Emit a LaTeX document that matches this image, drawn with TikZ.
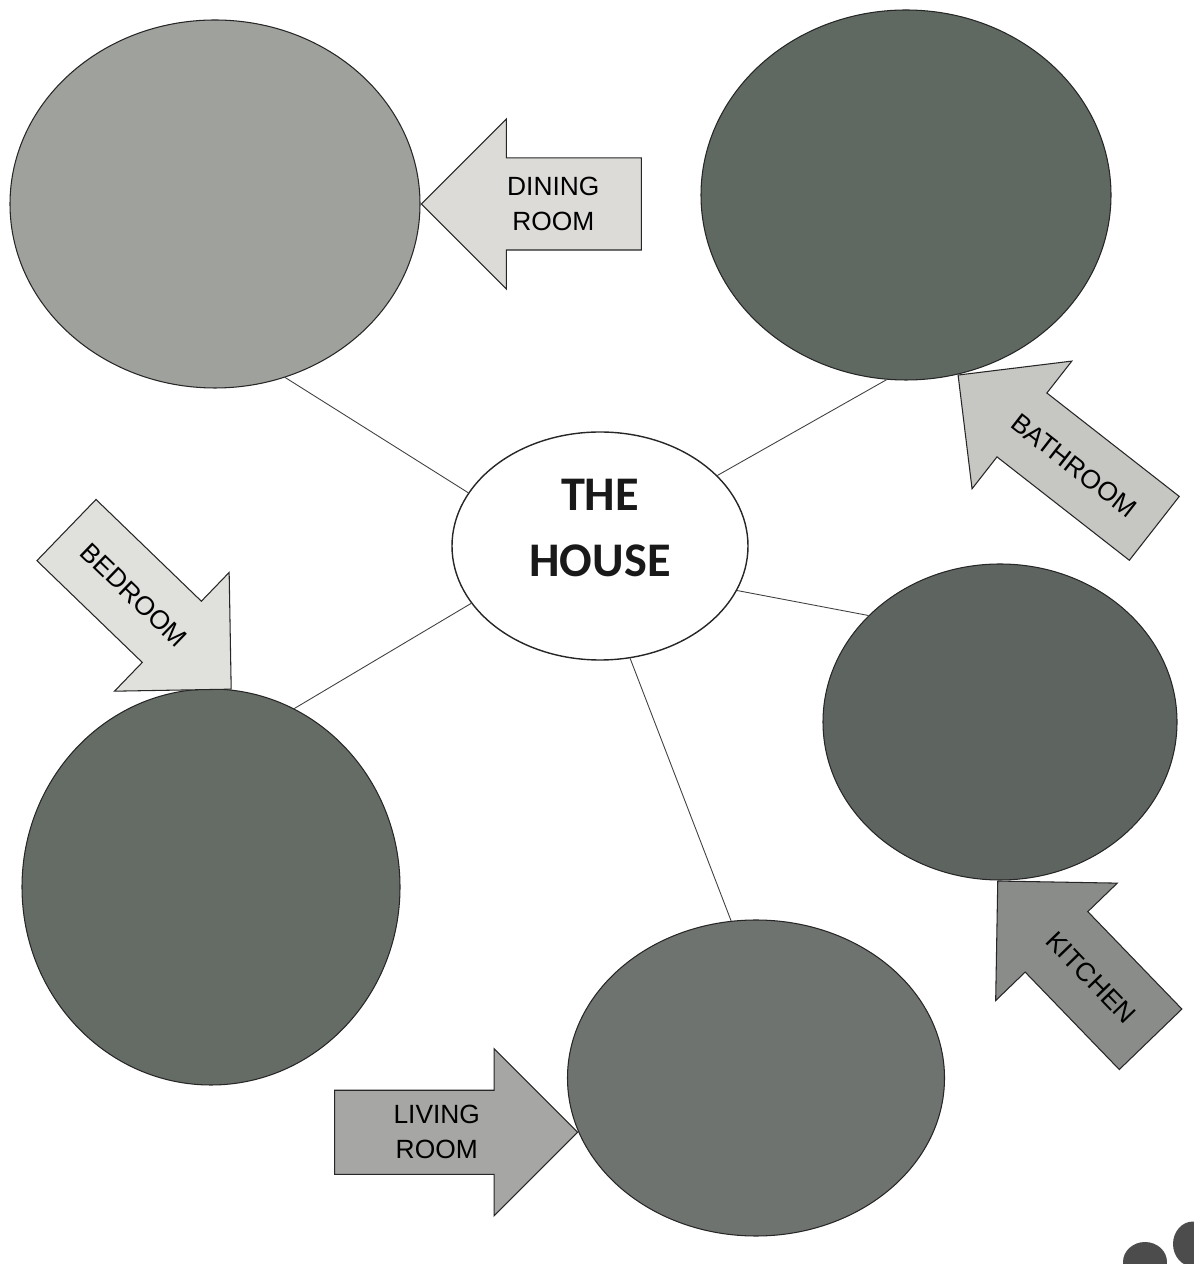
\documentclass[tikz,border=0pt]{standalone}
\usepackage{fontspec}
\newfontfamily\tagfont{Liberation Sans}
\newfontfamily\hubfont{Carlito}
\usetikzlibrary{shapes.geometric,shapes.arrows,calc}

\definecolor{diningfill}{HTML}{9EA19C}
\definecolor{bathfill}{HTML}{5F6962}
\definecolor{kitchenfill}{HTML}{5E6560}
\definecolor{bedfill}{HTML}{656C66}
\definecolor{livingfill}{HTML}{6F736F}
\definecolor{diningtagfill}{HTML}{DCDBD8}
\definecolor{bathtagfill}{HTML}{C6C6C3}
\definecolor{bedtagfill}{HTML}{E0E0DC}
\definecolor{kitchentagfill}{HTML}{898C88}
\definecolor{livingtagfill}{HTML}{A6A7A4}

\begin{document}
\begin{tikzpicture}[
  room/.style={ellipse,draw=black!85,line width=0.6pt,inner sep=0pt},
  hub/.style={ellipse,draw=black!85,line width=0.8pt,fill=white,inner sep=0pt,minimum width=5.92cm,minimum height=4.56cm},
  hubtext/.style={font=\hubfont\bfseries\fontsize{27.5pt}{37.5pt}\selectfont,align=center,text=black!90,inner sep=0pt},
  tag/.style={single arrow,draw=black!85,line width=0.6pt,single arrow tip angle=90,inner xsep=0pt,minimum width=0pt,anchor=tip},
  tagtext/.style={font=\tagfont\fontsize{15pt}{20pt}\selectfont,align=center,inner sep=0pt},
  link/.style={draw=black!75,line width=0.5pt}
]
\useasboundingbox (0,0) rectangle (23.86,25.28);

\node[hub] (house) at (12.0,14.36) {};
\node[hubtext] (housetxt) at ([yshift=0.36cm]house.center) {THE\\HOUSE};

\node[room,fill=diningfill,minimum width=8.2cm,minimum height=7.36cm] (dining) at (4.30,21.20) {};
\node[room,fill=bathfill,minimum width=8.2cm,minimum height=7.4cm] (bathroom) at (18.12,21.38) {};
\node[room,fill=kitchenfill,minimum width=7.08cm,minimum height=6.32cm] (kitchen) at (20.0,10.84) {};
\node[room,fill=bedfill,minimum width=7.56cm,minimum height=7.92cm] (bedroom) at (4.22,7.54) {};
\node[room,fill=livingfill,minimum width=7.54cm,minimum height=6.32cm] (living) at (15.12,3.72) {};

\draw[link] (house.158) -- (dining.292);
\draw[link] (house.31) -- (bathroom.264);
\draw[link] (house.342) -- (kitchen.141);
\draw[link] (house.204) -- (bedroom.65);
\draw[link] (house.285) -- (living.99);

\node[tag,fill=diningtagfill,rotate=180,minimum height=4.4cm,inner ysep=0.91cm,single arrow head extend=0.78cm] (diningtag) at (dining.east) {};
\node[tag,fill=bathtagfill,rotate=142,minimum height=4.98cm,inner ysep=0.8cm,single arrow head extend=0.81cm] (bathtag) at (bathroom.-74) {};
\node[tag,fill=kitchentagfill,rotate=134,minimum height=4.4cm,inner ysep=0.86cm,single arrow head extend=0.82cm] (kitchentag) at (kitchen.-91) {};
\node[tag,fill=bedtagfill,rotate=-44,minimum height=4.58cm,inner ysep=0.84cm,single arrow head extend=0.8cm] (bedtag) at (bedroom.84) {};
\node[tag,fill=livingtagfill,rotate=0,minimum height=4.86cm,inner ysep=0.83cm,single arrow head extend=0.83cm] (livingtag) at (living.197) {};

\node[tagtext] (diningtxt) at ($(diningtag.tip)!0.6!(diningtag.tail)$) {DINING\\ROOM};
\node[tagtext,rotate=-38] (bathtxt) at ($(bathtag.tip)!0.59!(bathtag.tail)$) {BATHROOM};
\node[tagtext,rotate=-46] (kitchentxt) at ($(kitchentag.tip)!0.61!(kitchentag.tail)$) {KITCHEN};
\node[tagtext,rotate=-44] (bedtxt) at ($(bedtag.tip)!0.59!(bedtag.tail)$) {BEDROOM};
\node[tagtext] (livingtxt) at ($(livingtag.tip)!0.58!(livingtag.tail)$) {LIVING\\ROOM};

\fill[black!70] (22.9,0.04) ellipse (0.44 and 0.4);
\fill[black!70] (23.86,0.4) ellipse (0.4 and 0.45);
\end{tikzpicture}
\end{document}
